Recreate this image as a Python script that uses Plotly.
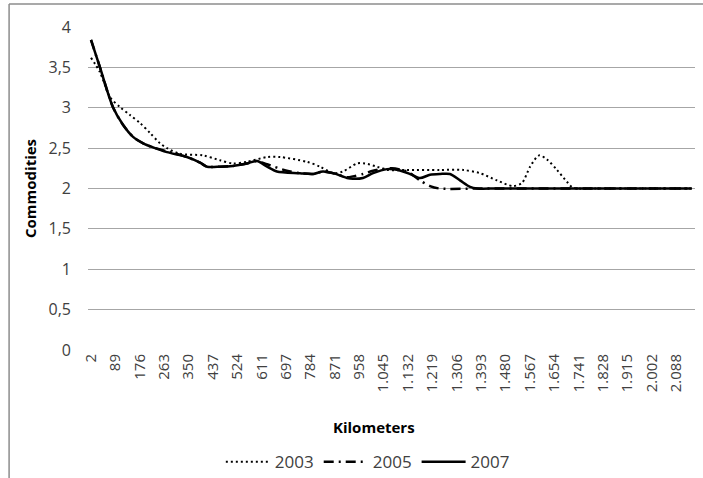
import plotly.graph_objects as go

# kilometers on the category axis (labels as printed, European style)
x_tick_vals = [2, 89, 176, 263, 350, 437, 524, 611, 697, 784, 871, 958, 1045, 1132,
               1219, 1306, 1393, 1480, 1567, 1654, 1741, 1828, 1915, 2002, 2088]
x_tick_text = ["2", "89", "176", "263", "350", "437", "524", "611", "697", "784", "871",
               "958", "1.045", "1.132", "1.219", "1.306", "1.393", "1.480", "1.567",
               "1.654", "1.741", "1.828", "1.915", "2.002", "2.088"]
y_tick_vals = [0, 0.5, 1, 1.5, 2, 2.5, 3, 3.5, 4]
y_tick_text = ["0", "0,5", "1", "1,5", "2", "2,5", "3", "3,5", "4"]

km_2003 = [2, 34, 70, 105, 141, 177, 212, 248, 273, 319, 401, 462, 508, 558, 630, 676,
           772, 819, 865, 900, 951, 979, 1022, 1058, 1129, 1247, 1329, 1389, 1450, 1507,
           1539, 1568, 1600, 1628, 1664, 1700, 1721, 1800, 2000, 2145]
val_2003 = [3.62, 3.44, 3.13, 3.01, 2.91, 2.81, 2.69, 2.56, 2.5, 2.43, 2.41, 2.35, 2.31,
            2.33, 2.39, 2.39, 2.33, 2.27, 2.19, 2.21, 2.31, 2.31, 2.27, 2.23, 2.23, 2.23,
            2.23, 2.19, 2.1, 2.03, 2.07, 2.27, 2.41, 2.36, 2.23, 2.08, 2.01, 2.0, 2.0, 2.0]

km_2005 = [2, 34, 80, 116, 152, 188, 223, 273, 344, 391, 416, 462, 508, 558, 594, 630,
           700, 747, 794, 829, 865, 915, 936, 972, 1008, 1040, 1075, 1110, 1135, 1175,
           1211, 1245, 1400, 1600, 1800, 2000, 2145]
val_2005 = [3.84, 3.5, 3.01, 2.79, 2.64, 2.56, 2.51, 2.46, 2.39, 2.32, 2.27, 2.27, 2.28,
            2.31, 2.34, 2.3, 2.22, 2.19, 2.18, 2.21, 2.19, 2.14, 2.15, 2.18, 2.22, 2.24,
            2.25, 2.23, 2.2, 2.1, 2.03, 2.0, 2.0, 2.0, 2.0, 2.0, 2.0]

km_2007 = [2, 34, 80, 116, 152, 188, 223, 273, 344, 391, 416, 462, 508, 558, 594, 630,
           665, 747, 794, 829, 865, 915, 936, 972, 1008, 1058, 1097, 1140, 1175, 1211,
           1247, 1282, 1318, 1354, 1379, 1450, 1600, 1800, 2000, 2145]
val_2007 = [3.84, 3.5, 3.01, 2.79, 2.64, 2.56, 2.51, 2.45, 2.39, 2.32, 2.27, 2.27, 2.28,
            2.31, 2.34, 2.27, 2.21, 2.19, 2.18, 2.21, 2.19, 2.13, 2.12, 2.13, 2.19, 2.24,
            2.23, 2.18, 2.13, 2.17, 2.18, 2.18, 2.1, 2.02, 2.0, 2.0, 2.0, 2.0, 2.0, 2.0]

FONT = "Open Sans, Liberation Sans, sans-serif"

fig = go.Figure()
fig.add_trace(go.Scatter(x=km_2003, y=val_2003, name="2003", mode="lines",
                         line=dict(color="black", width=2, dash="2px,3px",
                                   shape="spline", smoothing=0.8)))
fig.add_trace(go.Scatter(x=km_2005, y=val_2005, name="2005", mode="lines",
                         line=dict(color="black", width=2.5, dash="10px,5px,2px,5px",
                                   shape="spline", smoothing=0.8)))
fig.add_trace(go.Scatter(x=km_2007, y=val_2007, name="2007", mode="lines",
                         line=dict(color="black", width=2.5,
                                   shape="spline", smoothing=0.8)))

fig.update_layout(
    width=703, height=478,
    margin=dict(l=88, r=8, t=27, b=128),
    paper_bgcolor="white", plot_bgcolor="white",
    font=dict(family=FONT, size=15, color="#404040"),
    showlegend=True,
    legend=dict(orientation="h", x=0.461, xanchor="center",
                yref="container", y=0.033, yanchor="middle",
                font=dict(size=17, color="#404040"), itemwidth=44,
                traceorder="normal"),
    shapes=[
        # chart frame: top and left edges (the others fall outside the picture)
        dict(type="line", xref="paper", yref="paper", x0=-0.130, x1=1.02,
             y0=(350 - 4) / 323, y1=(350 - 4) / 323,
             line=dict(color="#8c8c8c", width=1.5)),
        dict(type="line", xref="paper", yref="paper", x0=-0.130, x1=-0.130,
             y0=(350 - 4) / 323, y1=-0.45, line=dict(color="#8c8c8c", width=1.5)),
    ],
    annotations=[
        dict(text="<b>Kilometers</b>", xref="paper", yref="paper",
             x=(374 - 88) / 607, y=(350 - 427) / 323, showarrow=False,
             xanchor="center", yanchor="middle",
             font=dict(size=15, color="black")),
    ],
)
fig.update_xaxes(
    range=[-8.7, 2156], tickvals=x_tick_vals, ticktext=x_tick_text,
    tickangle=-90, showgrid=False, zeroline=False, showline=False,
    tickfont=dict(size=15),
)
fig.update_yaxes(
    range=[0, 4], tickvals=y_tick_vals, ticktext=y_tick_text,
    showgrid=True, gridcolor="#a6a6a6", gridwidth=1, zeroline=False,
    ticklabelstandoff=16, tickfont=dict(size=16),
    title=dict(text="<b>Commodities</b>", font=dict(size=15, color="black"), standoff=8),
)

# drop the browser's default page margin so the figure sits at the window corner
fig.write_html("out.html", config={"displayModeBar": False},
               post_script="document.body.style.margin='0';")
